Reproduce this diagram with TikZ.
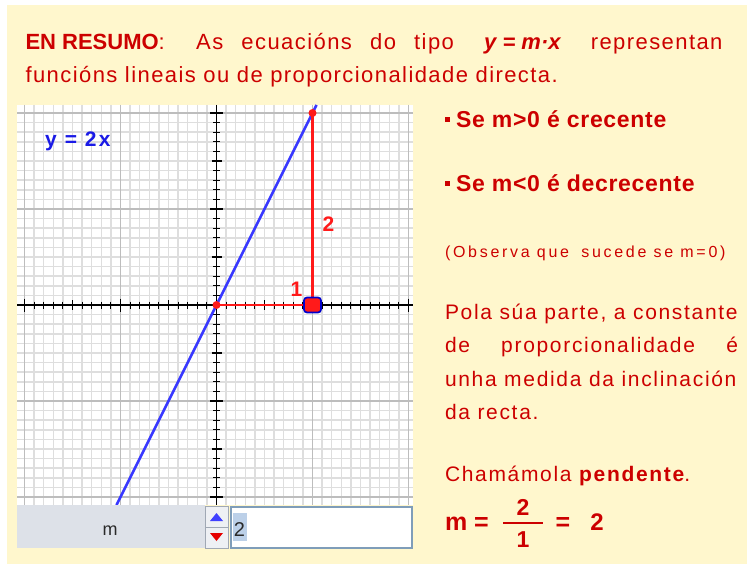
\documentclass[tikz,border=0pt]{standalone}
\usepackage{fontspec}
\setmainfont{Liberation Sans}
\newfontfamily\hsp[LetterSpace=6.5]{Liberation Sans}
\newfontfamily\lsp[LetterSpace=8]{Liberation Sans}
\newfontfamily\ssp[LetterSpace=17]{Liberation Sans}
\newfontfamily\bsp[LetterSpace=10]{Liberation Sans}
\newfontfamily\bbsp[LetterSpace=3]{Liberation Sans}
\usetikzlibrary{calc}
\definecolor{cream}{HTML}{FFF7CD}
\definecolor{txtred}{HTML}{CC0000}
\definecolor{gred}{HTML}{FF1A1A}
\definecolor{gblue}{HTML}{3838FF}
\definecolor{lblue}{HTML}{1A1AE6}
\definecolor{minorg}{HTML}{DEDEDE}
\definecolor{majorg}{HTML}{BDBDBD}
\definecolor{sliderg}{HTML}{DDE1E8}
\definecolor{spinbg}{HTML}{EEF0F4}
\definecolor{spinbd}{HTML}{A0A8B4}
\definecolor{fieldb}{HTML}{7F9DB9}
\definecolor{hilite}{HTML}{BCD0E8}
\definecolor{darktxt}{HTML}{2A2A2A}
\tikzset{
  txt/.style={inner sep=0pt, outer sep=0pt, anchor=base west, text=txtred},
  minorline/.style={draw=minorg, line width=1.5pt},
  majorline/.style={draw=majorg, line width=1.6pt},
  axisline/.style={draw=black, line width=1.3pt},
  tickmark/.style={draw=black, line width=1.1pt},
  blueline/.style={draw=gblue, line width=2.6pt},
  redline/.style={draw=gred, line width=2.2pt},
  reddot/.style={circle, fill=gred, inner sep=0pt, minimum size=8pt},
  handle/.style={rectangle, rounded corners=3pt, fill=gred, draw=blue!80!black, line width=1.7pt, inner sep=0pt, minimum width=17pt, minimum height=15pt},
  glabel/.style={inner sep=0pt, anchor=base, text=gred, font=\fontsize{21}{24}\selectfont\bfseries},
}
\begin{document}
\begin{tikzpicture}[x=1pt, y=-1pt]
\useasboundingbox (0,0) rectangle (747,564);
\fill[white] (0,0) rectangle (747,564);
\fill[cream] (7,5) rectangle (747,564);

% ---------- header ----------
\node[txt] (h1) at (25.5,50) {\fontsize{22}{26}\selectfont\makebox[697pt][s]{\mbox{\bfseries EN RESUMO}\hsp: As ecuacións do tipo\hspace{12pt} \mbox{\normalfont\bfseries\itshape y = m·x}\hspace{12pt} representan}};
\node[txt] (h2) at (25.5,83) {\fontsize{22}{26}\selectfont\hsp funcións lineais ou de proporcionalidade directa.};

% ---------- graph ----------
\fill[white] (17,105) rectangle (413,505);
\coordinate (O) at (216.5,305);
\coordinate (P) at (312.5,305);
\coordinate (Q) at (312.5,113);
\coordinate (Lbot) at (116.5,505);
\coordinate (Ltop) at (316.5,105);
\coordinate (xl) at (17,305);
\coordinate (xr) at (413,305);
\coordinate (yt) at (216.5,105);
\coordinate (yb) at (216.5,505);
\begin{scope}
\clip (17,105) rectangle (413,505);
\foreach \i in {-21,...,21}{
  \draw[minorline] (216.5+\i*9.6,105) -- (216.5+\i*9.6,505);
  \draw[minorline] (17,305+\i*9.6) -- (413,305+\i*9.6);
}
\foreach \k in {-2,...,2}{
  \draw[majorline] (216.5+\k*96,105) -- (216.5+\k*96,505);
  \draw[majorline] (17,305+\k*96) -- (413,305+\k*96);
}
\draw[axisline] (xl) -- (xr);
\draw[axisline] (yt) -- (yb);
\foreach \i in {-21,...,21}{
  \pgfmathtruncatemacro{\mm}{mod(abs(\i),10)}
  \pgfmathtruncatemacro{\ff}{mod(abs(\i),5)}
  \ifnum\mm=0 \def\tl{6.5}\else\ifnum\ff=0 \def\tl{5}\else\def\tl{3.5}\fi\fi
  \draw[tickmark] (216.5+\i*9.6,305-\tl) -- (216.5+\i*9.6,305+\tl);
  \draw[tickmark] (216.5-\tl,305+\i*9.6) -- (216.5+\tl,305+\i*9.6);
}
\draw[blueline] (Lbot) -- (Ltop);
\end{scope}
\draw[redline] (O) -- (P) -- (Q);
\node[reddot] (dO) at (O) {};
\node[reddot] (dQ) at (Q) {};
\node[handle] (hP) at (P) {};
\node[inner sep=0pt, anchor=base west, text=lblue, font=\fontsize{21}{24}\bsp\bfseries] (eqn) at (45,147) {y = 2x};
\node[glabel] (one) at (296.5,296) {1};
\node[glabel] (two) at (328.5,232) {2};

% ---------- slider ----------
\fill[sliderg] (17,505) rectangle (205,548);
\node[inner sep=0pt, anchor=base, text=darktxt, font=\fontsize{18}{20}\selectfont] (mlab) at (110,535) {m};
\draw[spinbd, fill=spinbg, line width=0.8pt] (205,506) rectangle (228,527);
\draw[spinbd, fill=spinbg, line width=0.8pt] (205,527) rectangle (228,548);
\fill[blue!75!white] (210,521) -- (223,521) -- (216.5,513) -- cycle;
\fill[red!90!black] (210,533) -- (223,533) -- (216.5,541) -- cycle;
\draw[fieldb, fill=white, line width=1.5pt] (231,507) rectangle (412,548);
\fill[hilite] (233,513) rectangle (247,541);
\node[inner sep=0pt, anchor=base, text=darktxt, font=\fontsize{20}{22}\selectfont] (mval) at (239.5,536) {2};

% ---------- right column ----------
\node[txt] (b1) at (445,128) {\fontsize{23}{26}\bbsp\bfseries\raisebox{6pt}{\rule{5pt}{5pt}}\hspace{6pt}Se m>0 é crecente};
\node[txt] (b2) at (445,192) {\fontsize{23}{26}\bbsp\bfseries\raisebox{6pt}{\rule{5pt}{5pt}}\hspace{6pt}Se m<0 é decrecente};
\node[txt] (obs) at (445,258) {\fontsize{16}{18}\ssp (Observa que\hspace{5pt} sucede se m=0)};
\node[txt] (p1) at (445,319) {\fontsize{21}{24}\lsp Pola súa parte, a constante};
\node[txt] (p2) at (445,352.5) {\fontsize{21}{24}\lsp\makebox[293pt][s]{de proporcionalidade é}};
\node[txt] (p3) at (445,386) {\fontsize{21}{24}\lsp unha medida da inclinación};
\node[txt] (p4) at (445,419) {\fontsize{21}{24}\lsp da recta.};
\node[txt] (p5) at (445,481.5) {\fontsize{21}{24}\lsp Chamámola {\bfseries pendente}.};
\node[txt] (fm) at (445,530) {\fontsize{25}{28}\selectfont\bfseries m};
\node[inner sep=0pt, anchor=base, text=txtred, font=\fontsize{25}{28}\selectfont\bfseries] (feq1) at (481.5,530) {=};
\node[inner sep=0pt, anchor=base, text=txtred, font=\fontsize{23}{26}\selectfont\bfseries] (fnum) at (523,515.5) {2};
\node[inner sep=0pt, anchor=base, text=txtred, font=\fontsize{23}{26}\selectfont\bfseries] (fden) at (523,547) {1};
\coordinate (barL) at (503,522.5);
\coordinate (barR) at (543,522.5);
\draw[txtred, line width=2pt] (barL) -- (barR);
\node[inner sep=0pt, anchor=base, text=txtred, font=\fontsize{25}{28}\selectfont\bfseries] (feq2) at (563,530) {=};
\node[inner sep=0pt, anchor=base, text=txtred, font=\fontsize{24}{28}\selectfont\bfseries] (fres) at (597,530) {2};
\end{tikzpicture}
\end{document}
